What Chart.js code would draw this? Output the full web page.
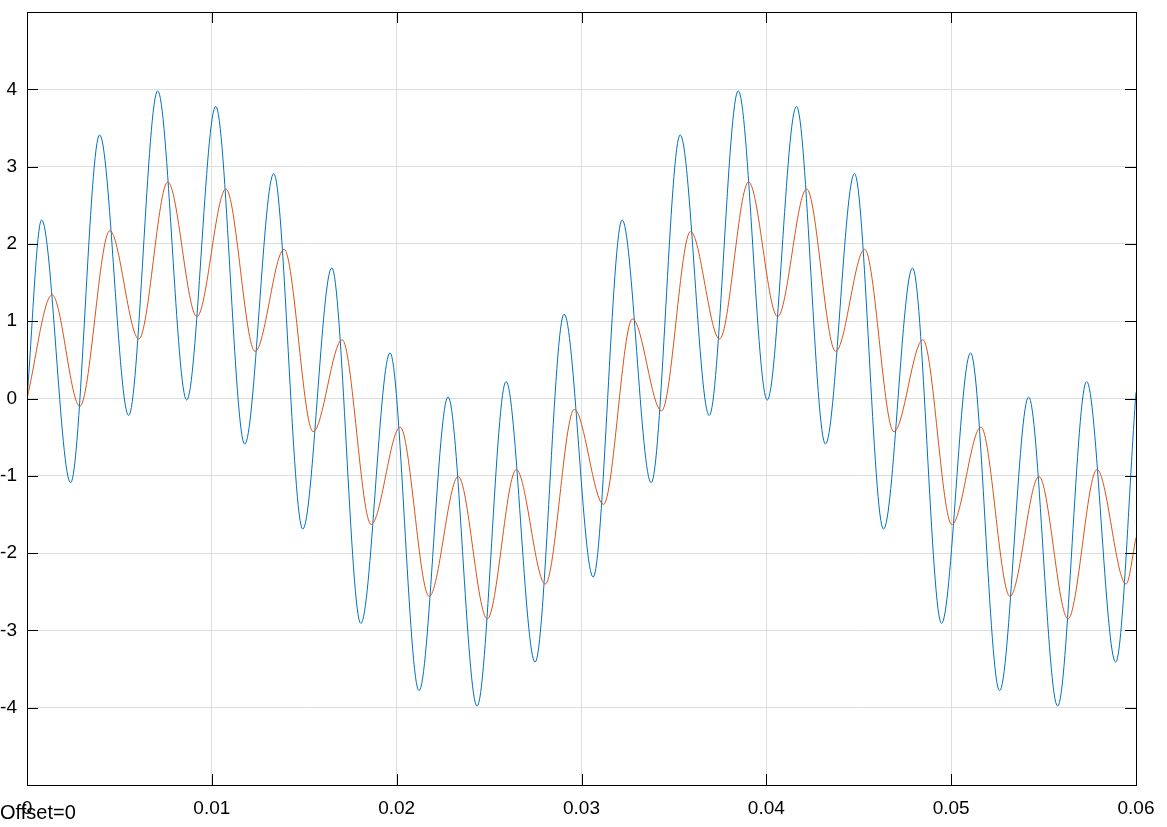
<!DOCTYPE html>
<html>
<head>
<meta charset="utf-8">
<script src="https://cdn.jsdelivr.net/npm/chart.js@4.4.1/dist/chart.umd.min.js"></script>
<style>
  html, body { margin: 0; padding: 0; background: #fff; }
  #wrap { width: 1167px; height: 827px; }
</style>
</head>
<body>
<div id="wrap"><canvas id="scope"></canvas></div>
<script>
// time (s) of each turning point
const blueT = [0, 0.00079, 0.00236, 0.00393, 0.00550, 0.00707, 0.00864, 0.01021, 0.01178, 0.01335,
  0.01492, 0.01649, 0.01806, 0.01964, 0.02121, 0.02278, 0.02435, 0.02592, 0.02749, 0.02906,
  0.03063, 0.03220, 0.03377, 0.03534, 0.03691, 0.03848, 0.04005, 0.04163, 0.04320, 0.04477,
  0.04634, 0.04791, 0.04948, 0.05105, 0.05262, 0.05419, 0.05576, 0.05733, 0.05890, 0.06];
const blueV = [0, 2.31, -1.09, 3.41, -0.22, 3.98, -0.02, 3.78, -0.59, 2.91,
  -1.69, 1.69, -2.91, 0.59, -3.78, 0.02, -3.98, 0.22, -3.41, 1.09,
  -2.31, 2.31, -1.09, 3.41, -0.22, 3.98, -0.02, 3.78, -0.59, 2.91,
  -1.69, 1.69, -2.91, 0.59, -3.78, 0.02, -3.98, 0.22, -3.41, 0.08];

const orangeT = [0, 0.00136, 0.00286, 0.00448, 0.00605, 0.00762, 0.00919, 0.01076, 0.01234, 0.01391,
  0.01548, 0.01705, 0.01862, 0.02019, 0.02176, 0.02333, 0.02490, 0.02647, 0.02804, 0.02961,
  0.03119, 0.03276, 0.03433, 0.03590, 0.03747, 0.03904, 0.04061, 0.04218, 0.04375, 0.04532,
  0.04690, 0.04847, 0.05004, 0.05161, 0.05318, 0.05475, 0.05632, 0.05789, 0.05946, 0.06];
const orangeV = [0, 1.34, -0.10, 2.17, 0.77, 2.80, 1.06, 2.71, 0.61, 1.93,
  -0.43, 0.76, -1.63, -0.37, -2.56, -1.01, -2.85, -0.92, -2.40, -0.14,
  -1.37, 1.03, -0.16, 2.16, 0.77, 2.80, 1.06, 2.71, 0.61, 1.93,
  -0.43, 0.76, -1.63, -0.37, -2.56, -1.01, -2.85, -0.92, -2.40, -1.80];

const xTicks = [0, 0.01, 0.02, 0.03, 0.04, 0.05, 0.06];
const xTickLabels = ["0", "0.01", "0.02", "0.03", "0.04", "0.05", "0.06"];
const yTicks = [-4, -3, -2, -1, 0, 1, 2, 3, 4];

const pts = (t, v) => t.map((x, i) => ({ x: x, y: v[i] }));

// box round the plot, inward tick marks, offset note
const frame = {
  id: "frame",
  afterDatasetsDraw(chart) {
    const { ctx, chartArea: a, scales } = chart;
    ctx.save();
    ctx.strokeStyle = "#000";
    ctx.lineWidth = 1;
    ctx.beginPath();
    xTicks.forEach(v => {
      const px = Math.round(scales.x.getPixelForValue(v)) + 0.5;
      ctx.moveTo(px, a.bottom); ctx.lineTo(px, a.bottom - 11);
      ctx.moveTo(px, a.top); ctx.lineTo(px, a.top + 11);
    });
    yTicks.forEach(v => {
      const py = Math.round(scales.y.getPixelForValue(v)) + 0.5;
      ctx.moveTo(a.left, py); ctx.lineTo(a.left + 11, py);
      ctx.moveTo(a.right, py); ctx.lineTo(a.right - 11, py);
    });
    ctx.stroke();
    ctx.strokeRect(a.left + 0.5, a.top + 0.5, a.right - a.left, a.bottom - a.top);
    ctx.fillStyle = "#000";
    ctx.font = '20px "Liberation Sans", Arial, sans-serif';
    ctx.textBaseline = "alphabetic";
    ctx.fillText("Offset=0", 0, 819);
    ctx.restore();
  }
};

new Chart(document.getElementById("scope"), {
  type: "line",
  data: {
    datasets: [
      {
        data: pts(blueT, blueV),
        borderColor: "#0072BD",
        borderWidth: 1,
        pointRadius: 0,
        cubicInterpolationMode: "monotone",
        order: 2,
      },
      {
        data: pts(orangeT, orangeV),
        borderColor: "#D95319",
        borderWidth: 1,
        pointRadius: 0,
        cubicInterpolationMode: "monotone",
        order: 1,
      },
    ],
  },
  options: {
    responsive: true,
    maintainAspectRatio: false,
    animation: false,
    layout: { padding: { top: 12, right: 31, left: 0, bottom: 0 } },
    plugins: { legend: { display: false }, tooltip: { enabled: false } },
    scales: {
      x: {
        type: "linear",
        min: 0,
        max: 0.06,
        afterBuildTicks: s => { s.ticks = xTicks.map(v => ({ value: v })); },
        afterFit: s => { s.height = 42; s.paddingLeft = 0; s.paddingRight = 0; },
        border: { display: false },
        grid: { color: "#dedede", drawTicks: false },
        ticks: {
          padding: 12,
          color: "#000",
          font: { family: '"Liberation Sans", Arial, sans-serif', size: 19 },
          maxRotation: 0,
          autoSkip: false,
          callback: (v, i) => xTickLabels[i],
        },
      },
      y: {
        min: -5,
        max: 5,
        afterBuildTicks: s => { s.ticks = yTicks.map(v => ({ value: v })); },
        afterFit: s => { s.width = 27; s.paddingTop = 0; s.paddingBottom = 0; },
        border: { display: false },
        grid: { color: "#dedede", drawTicks: false },
        ticks: {
          padding: 10,
          color: "#000",
          font: { family: '"Liberation Sans", Arial, sans-serif', size: 19 },
          callback: v => String(v),
        },
      },
    },
  },
  plugins: [frame],
});
</script>
</body>
</html>
